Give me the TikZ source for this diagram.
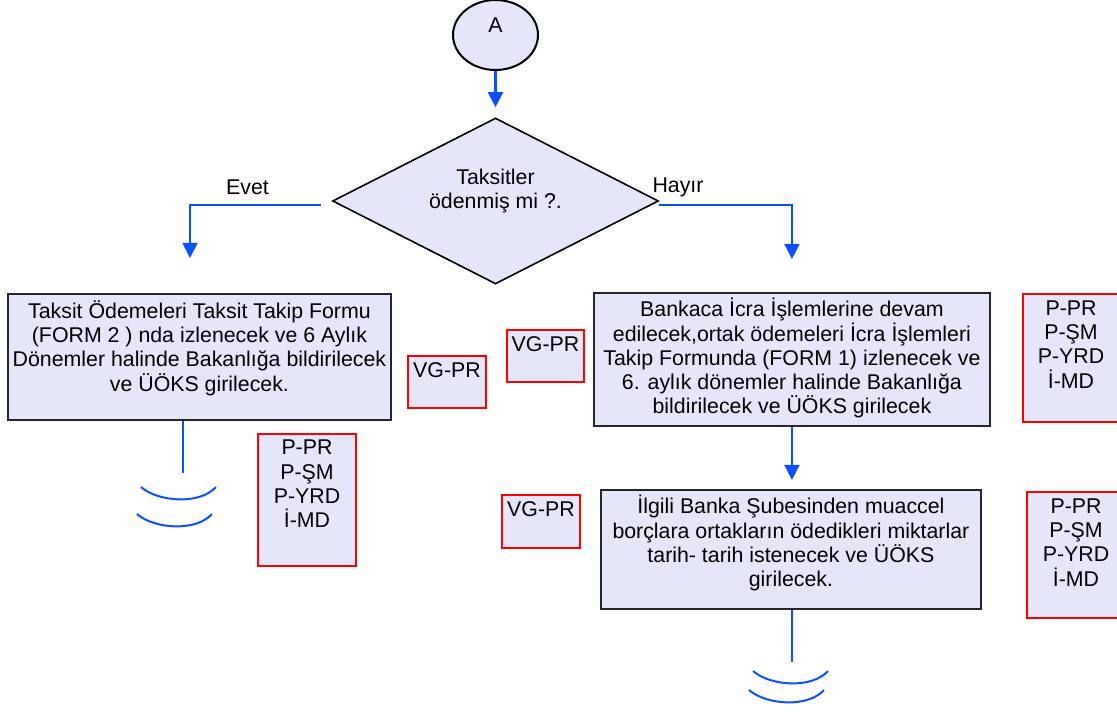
\documentclass[tikz,border=0pt]{standalone}
\usepackage{fontspec}
\setmainfont{Liberation Sans}
\usetikzlibrary{shapes.geometric,arrows.meta}
\definecolor{boxfill}{RGB}{230,230,250}
\definecolor{flowblue}{RGB}{10,80,255}
\newcommand{\padbot}[1]{\rule[-#1]{0pt}{#1}}
\tikzstyle{startnode}=[ellipse,draw=black,line width=1.5pt,fill=boxfill,inner sep=0pt,minimum width=63.75pt,minimum height=52.5pt]
\tikzstyle{decision}=[diamond,aspect=2,draw=black,line width=1.2pt,fill=boxfill,inner sep=0pt,minimum width=244.5pt,minimum height=124.5pt,align=center]
\tikzstyle{mainbox}=[rectangle,draw=black!85,line width=1.4pt,fill=boxfill,inner sep=0pt,align=center,anchor=north west]
\tikzstyle{rolebox}=[rectangle,draw=red,line width=1.5pt,fill=boxfill,inner sep=0pt,align=center,anchor=north west]
\tikzstyle{flow}=[draw=flowblue,line width=1.3pt,-{Triangle[length=11.25pt,width=11.25pt]}]
\tikzstyle{flowline}=[draw=flowblue,line width=1.3pt]
\tikzstyle{wave}=[draw=flowblue,line width=1.5pt]

\begin{document}
\begin{tikzpicture}[x=0.75pt,y=-0.75pt,font=\fontsize{16pt}{18.2pt}\selectfont]
			\useasboundingbox (0,0) rectangle (1117,712);

			\node (A) at (495.5,35) [startnode] {A\padbot{15pt}};
			\node (q) at (495.5,201) [decision] {Taksitler\\ödenmiş mi ?.\padbot{18.75pt}};

			\node (b1) at (7,293) [mainbox,minimum width=287.25pt,minimum height=94.5pt]
				{Taksit Ödemeleri Taksit Takip Formu\\(FORM 2 ) nda izlenecek ve 6 Aylık\\Dönemler halinde Bakanlığa bildirilecek\\ve ÜÖKS girilecek.\padbot{16.5pt}};
			\node (b2) at (593,292) [mainbox,minimum width=297pt,minimum height=99.75pt]
				{Bankaca İcra İşlemlerine devam\\edilecek,ortak ödemeleri İcra İşlemleri\\Takip Formunda (FORM 1) izlenecek ve\\6. aylık dönemler halinde Bakanlığa\\bildirilecek ve ÜÖKS girilecek\padbot{5pt}};
			\node (b3) at (600,489) [mainbox,minimum width=285pt,minimum height=89.25pt]
				{İlgili Banka Şubesinden muaccel\\borçlara ortakların ödedikleri miktarlar\\tarih- tarih istenecek ve ÜÖKS\\girilecek.\padbot{12.75pt}};

			\node (vg1) at (407,355) [rolebox,minimum width=58.5pt,minimum height=39pt] {VG-PR\padbot{18pt}};
			\node (vg2) at (506,329) [rolebox,minimum width=57.75pt,minimum height=39pt] {VG-PR\padbot{18pt}};
			\node (vg3) at (501,494) [rolebox,minimum width=58.5pt,minimum height=39.75pt] {VG-PR\padbot{18.75pt}};

			\node (p1) at (257,433) [rolebox,minimum width=73.5pt,minimum height=99pt] {P-PR\\P-ŞM\\P-YRD\\İ-MD\padbot{24pt}};
			\node (p2) at (1022,293) [rolebox,minimum width=72pt,minimum height=96pt] {P-PR\\P-ŞM\\P-YRD\\İ-MD\padbot{20.25pt}};
			\node (p3) at (1026,491) [rolebox,minimum width=73.5pt,minimum height=94.5pt] {P-PR\\P-ŞM\\P-YRD\\İ-MD\padbot{18.75pt}};

			\node (evet) at (247.5,187) {Evet};
			\node (hayir) at (678,187) {Hayır};

			\coordinate (evetend) at (190,258);
			\coordinate (endleft) at (183,473);
			\coordinate (endright) at (792,662);

			\draw [flow,line width=1.8pt,shorten >=7.5pt] (A) -- (q);
			\draw [flow] ([xshift=-7.9pt,yshift=-3pt]q.west) -| (evetend);
			\draw [flow,shorten >=24.75pt] ([yshift=-3pt]q.east) -| (b2.north);
			\draw [flow,shorten >=6.75pt] (b2.south) -- (b2.south |- b3.north);
			\draw [flowline] (b1.south -| endleft) -- (endleft);
			\draw [flowline] (b3.south -| endright) -- (endright);

			\draw [wave] (141,487) .. controls (158,502) and (200,505) .. (216,487);
			\draw [wave] (137,514) .. controls (154,529) and (196,532) .. (212,514);
			\draw [wave] (753,671) .. controls (770,686) and (812,689) .. (828,671);
			\draw [wave] (749,690) .. controls (766,705) and (808,708) .. (824,690);
		\end{tikzpicture}
\end{document}
